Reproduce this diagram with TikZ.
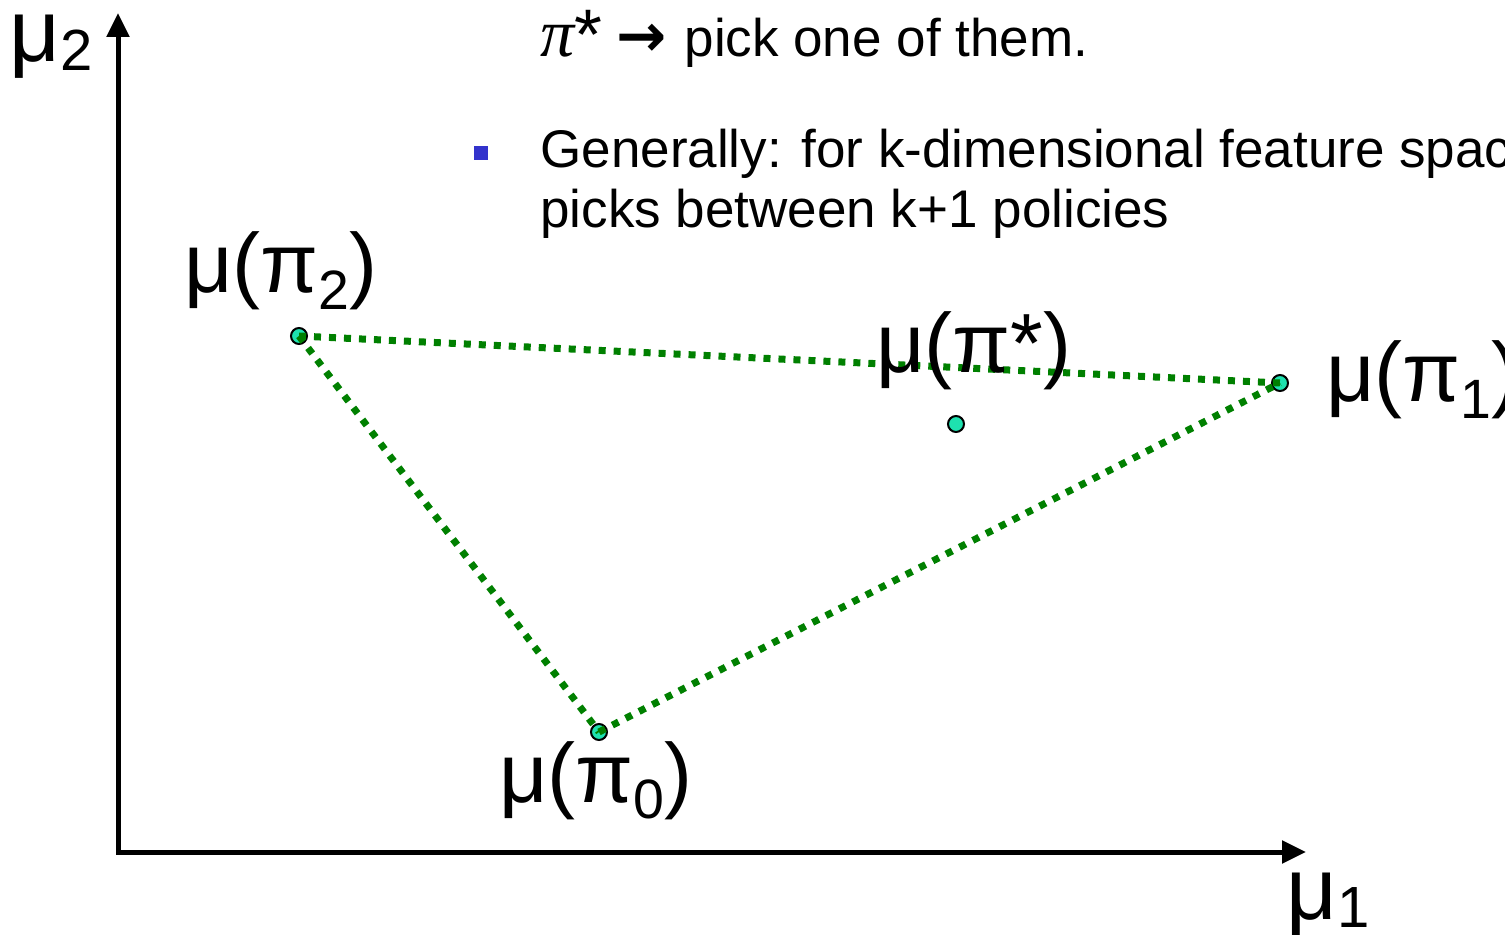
\documentclass[tikz,border=0pt]{standalone}
\usepackage{fontspec}
\setmainfont{Liberation Sans}
\newfontfamily\serifface{Liberation Serif}
\newfontfamily\arrowface{DejaVu Sans}
\usetikzlibrary{arrows.meta,positioning}
\usepackage{xcolor}
\definecolor{ptfill}{RGB}{30,225,175}
\definecolor{hullgreen}{RGB}{0,128,0}
\definecolor{bulletblue}{RGB}{51,51,204}
\newcommand{\lowidx}[2][0.2em]{\raisebox{-#1}{\scalebox{0.66}{#2}}}

\begin{document}
\begin{tikzpicture}[
  x=0.5pt, y=-0.5pt,
  pt/.style={circle, draw, line width=1pt, fill=ptfill, minimum size=8pt, inner sep=0pt},
  lbl/.style={anchor=base west, inner sep=0pt, font=\fontsize{42}{42}\selectfont},
  axlbl/.style={anchor=base west, inner sep=0pt, font=\fontsize{44}{44}\selectfont},
  txt/.style={anchor=base west, inner sep=0pt, font=\fontsize{26.5}{30}\selectfont},
  bulletsq/.style={fill=bulletblue, minimum size=7pt, inner sep=0pt},
  hull/.style={hullgreen, line width=3.5pt, dash pattern=on 3.5pt off 4pt},
  axis/.style={line width=2.5pt, {Triangle[length=12pt, width=11pt]}-{Triangle[length=12pt, width=11pt]}}
]
\useasboundingbox (0,0) rectangle (1505,935);

% axes
\coordinate (origin) at (118,852);
\coordinate (ytip) at (118,13);
\coordinate (xtip) at (1306,852);
\draw[axis] (ytip) -- (origin) -- (xtip);
\node[axlbl] (mu2) at (9,62) {μ\lowidx[0.1em]{2}};
\node[axlbl] (mu1) at (1286,919) {μ\lowidx[0.1em]{1}};

% text
\node[txt] (pickline) at (540,57) {{\serifface\itshape\fontsize{34}{34}\selectfont π}\raisebox{-0.05em}{\scalebox{1.35}{*}}\hspace{7pt}{\arrowface\bfseries\fontsize{30}{30}\selectfont →}\hspace{9pt}pick one of them.};
\node[bulletsq] (bullet) at (481,153) {};
\node[txt] (gen1) at (540,168) {Generally: for k-dimensional feature space};
\node[txt] (gen2) at (540,228) {picks between k+1 policies};

% points
\node[pt] (p2) at (299,336) {};
\node[pt] (p1) at (1280,383) {};
\node[pt] (p0) at (599,732) {};
\node[pt] (ps) at (956,424) {};

% hull
\draw[hull] (p2.center) -- (p1.center);
\draw[hull] (p2.center) -- (p0.center);
\draw[hull] (p0.center) -- (p1.center);

% labels
\node[lbl] (l2) at (184,293) {μ(π\lowidx{2})};
\node[lbl] (ls) at (876,373) {μ(π*)};
\node[lbl] (l1) at (1326,402) {μ(π\lowidx{1})};
\node[lbl] (l0) at (499,802) {μ(π\lowidx{0})};
\end{tikzpicture}
\end{document}
